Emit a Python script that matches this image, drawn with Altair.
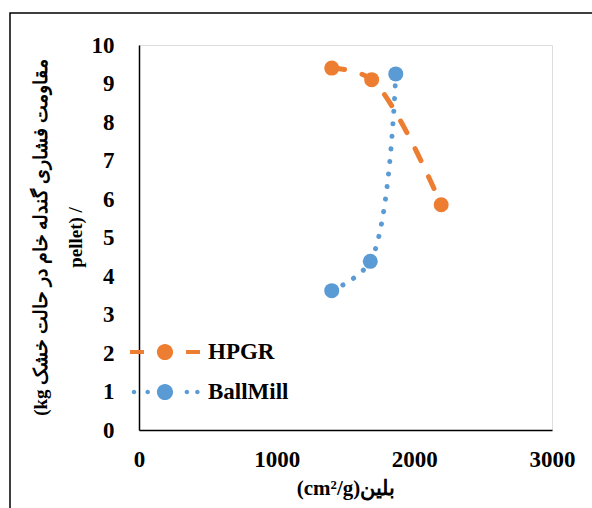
import altair as alt
import pandas as pd

series = ["HPGR", "HPGR", "HPGR", "BallMill", "BallMill", "BallMill"]
blaine = [1400, 1690, 2195, 1400, 1680, 1865]
strength = [9.4, 9.1, 5.85, 3.62, 4.38, 9.25]

x_ticks = [0, 1000, 2000, 3000]
y_ticks = list(range(0, 11))
names = ["HPGR", "BallMill"]
colors = ["#ED7D31", "#5B9BD5"]

df = pd.DataFrame({"series": series, "blaine": blaine, "strength": strength})

W, H = 413, 385
serif = "Liberation Serif"
SYM = 3136
k = 35 / (SYM ** 0.5 / 2)  # path units so half-width is 35 px


def circ(cx, r):
    return (f"M{(cx - r) * k:.3f},0A{r * k:.3f},{r * k:.3f} 0 1,0 {(cx + r) * k:.3f},0"
            f"A{r * k:.3f},{r * k:.3f} 0 1,0 {(cx - r) * k:.3f},0Z ")


def bar(a, b, h=0.06):
    return f"M{a * k:.3f},{-h * k:.3f}L{b * k:.3f},{-h * k:.3f}L{b * k:.3f},{h * k:.3f}L{a * k:.3f},{h * k:.3f}Z "


hpgr_sym = bar(-1, -0.6) + bar(0.6, 1) + circ(0, 0.23)
ball_sym = circ(-0.885, 0.065) + circ(-0.495, 0.065) + circ(0.625, 0.065) + circ(0.925, 0.065) + circ(0, 0.23)

xenc = alt.X("blaine:Q", scale=alt.Scale(domain=[0, 3000], nice=False),
             axis=alt.Axis(values=x_ticks, format="d", title="(cm²/g)بلین", grid=False, ticks=False,
                           labelFlush=False,
                           domainColor="black", domainWidth=1.5, labelFont=serif,
                           labelFontSize=23, labelFontWeight="bold", labelColor="black",
                           labelPadding=18, titleFont=serif, titleFontSize=21,
                           titleFontWeight="bold", titleColor="black", titlePadding=6))
yenc = alt.Y("strength:Q", scale=alt.Scale(domain=[0, 10], nice=False),
             axis=alt.Axis(values=y_ticks, grid=False, ticks=False, labelFlush=False,
                           title=["(kg مقاومت فشاری گندله خام در حالت خشک", "pellet) /"],
                           domainColor="black", domainWidth=1.5, labelFont=serif,
                           labelFontSize=23, labelFontWeight="bold", labelColor="black",
                           labelPadding=25, titleFont=serif, titleFontSize=19,
                           titleFontWeight="bold", titleColor="black", titleAngle=-90,
                           titleBaseline="middle", titleLineHeight=35, titleX=-99,
                           titleY=192))
cenc = alt.Color("series:N", scale=alt.Scale(domain=names, range=colors), legend=None)

frame = alt.Chart(pd.DataFrame({"a": [0]})).mark_rect(
    fill=None, stroke="black", strokeWidth=1.5, clip=False
).encode(x=alt.value(-129), x2=alt.value(520), y=alt.value(-32), y2=alt.value(520))

lines = alt.Chart(df).mark_line(interpolate="catmull-rom", strokeWidth=5, strokeCap="round").encode(
    x=xenc, y=yenc, color=cenc,
    strokeDash=alt.StrokeDash("series:N", scale=alt.Scale(domain=names, range=[[13, 18], [0.1, 12.5]]), legend=None),
    detail="series:N",
)
points = alt.Chart(df).mark_circle(size=225, opacity=1).encode(x=xenc, y=yenc, color=cenc)

leg = dict(title=None, orient="none", legendX=-2, legendY=279,
           symbolSize=SYM, symbolStrokeWidth=0, labelFont=serif,
           labelFontSize=23, labelFontWeight="bold", labelColor="black",
           labelOffset=15, rowPadding=0, symbolOpacity=1)

legend_layer = alt.Chart(df).mark_point(filled=True, opacity=0).encode(
    x=xenc, y=yenc,
    color=alt.Color("series:N", scale=alt.Scale(domain=names, range=colors),
                    legend=alt.Legend(**leg)),
    shape=alt.Shape("series:N", scale=alt.Scale(domain=names, range=[hpgr_sym, ball_sym]),
                    legend=alt.Legend(**leg)),
)

chart = alt.layer(frame, lines, points, legend_layer).resolve_legend(
    color="independent", shape="independent", strokeDash="independent"
).properties(
    width=W, height=H,
    autosize=alt.AutoSizeParams(type="none"),
    padding={"left": 139, "top": 45, "right": 40, "bottom": 78},
).configure_view(stroke=None).configure(background="white")

chart.save("out.html", embed_options={"renderer": "svg", "actions": False})
